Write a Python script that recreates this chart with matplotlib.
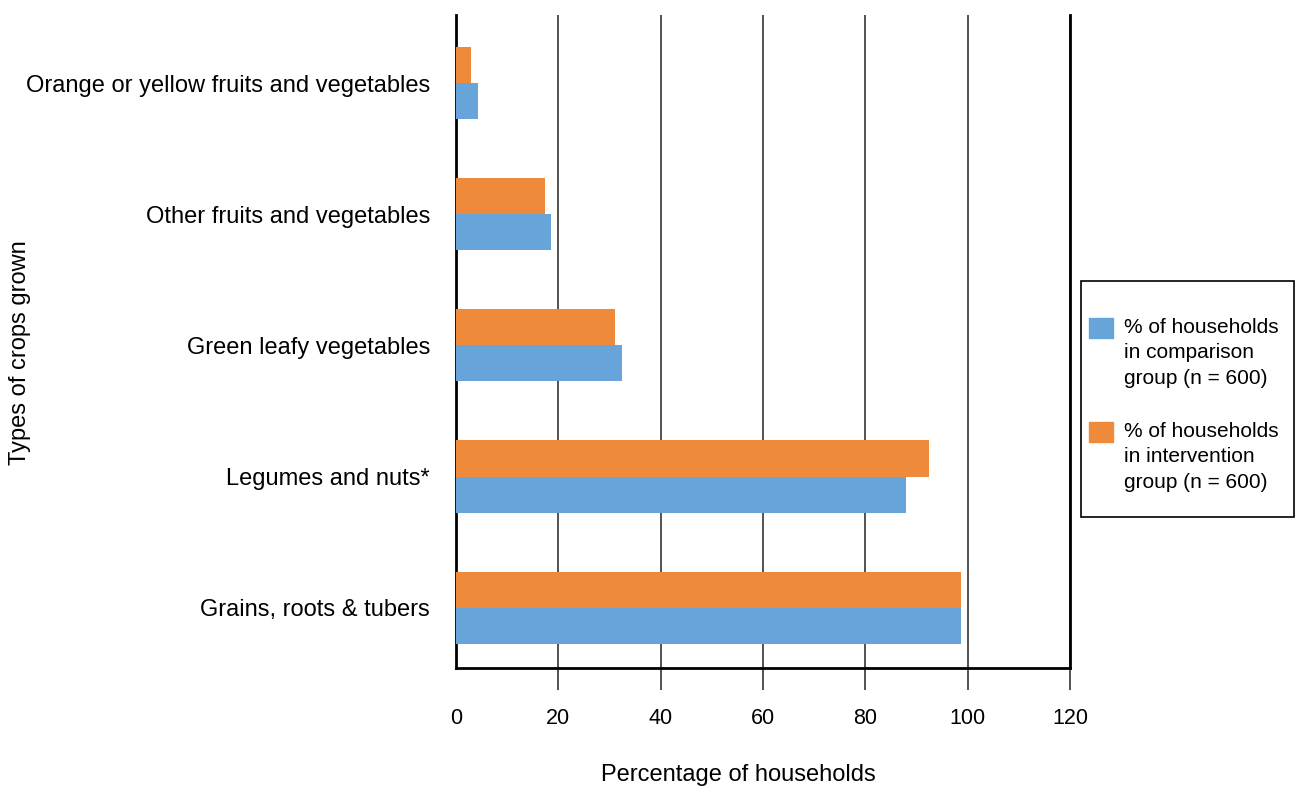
import matplotlib
matplotlib.use("Agg")
import matplotlib.pyplot as plt
from matplotlib.patches import Rectangle
import numpy as np

plt.rcParams['font.family'] = ['Liberation Sans', 'DejaVu Sans']

# categorias de abajo hacia arriba
cultivos = ['Grains, roots & tubers', 'Legumes and nuts*', 'Green leafy vegetables',
            'Other fruits and vegetables', 'Orange or yellow fruits and vegetables']
comparacion = [98.6, 87.9, 32.4, 18.6, 4.3]
intervencion = [98.6, 92.4, 31.0, 17.4, 3.0]
ticks_x = [0, 20, 40, 60, 80, 100, 120]
etiquetas_serie = [['% of households', 'in comparison', 'group (n = 600)'],
                   ['% of households', 'in intervention', 'group (n = 600)']]

AZUL = '#67A4DA'
NARANJA = '#EF8A3B'
W, H = 1300, 786

fig = plt.figure(figsize=(13, 7.86), dpi=100)
ax = fig.add_axes([456 / W, 1 - 668 / H, 614 / W, 653 / H])

y = np.arange(len(cultivos))
alto = 0.275
ax.barh(y - alto / 2, comparacion, height=alto, color=AZUL, zorder=3)
ax.barh(y + alto / 2, intervencion, height=alto, color=NARANJA, zorder=3)

ax.set_xlim(0, 120)
ax.set_ylim(-0.46, 4.52)
ax.set_xticks(ticks_x)
ax.set_xticklabels([str(t) for t in ticks_x], fontsize=15.5)
ax.set_yticks(y)
ax.set_yticklabels(cultivos, fontsize=17)

ax.grid(axis='x', color='#444444', linewidth=1.3, zorder=1)
ax.tick_params(axis='x', length=16, width=1.3, color='#444444', pad=13)
ax.tick_params(axis='y', length=0, pad=18.7)
ax.xaxis.get_major_ticks()[0].tick1line.set_visible(False)

ax.spines['top'].set_visible(False)
for lado in ['left', 'right', 'bottom']:
    ax.spines[lado].set_linewidth(2)
    ax.spines[lado].set_color('black')

# titulos de ejes
fig.text(738 / W, 5 / H, 'Percentage of households', fontsize=17,
         ha='center', va='baseline')
fig.text(20 / W, 1 - 353 / H, 'Types of crops grown', rotation=90, fontsize=17,
         ha='center', va='center')

# leyenda dibujada a mano (parche alineado con la primera linea)
fig.patches.append(Rectangle((1081 / W, 1 - 517 / H), 213 / W, 236 / H,
                             transform=fig.transFigure, fill=False,
                             edgecolor='black', linewidth=1.2))
colores = [AZUL, NARANJA]
inicio = [318, 422]
for k in range(2):
    fig.patches.append(Rectangle((1089 / W, 1 - (inicio[k] + 20) / H), 24 / W, 20 / H,
                                 transform=fig.transFigure, color=colores[k]))
    for j, linea in enumerate(etiquetas_serie[k]):
        fig.text(1124 / W, 1 - (inicio[k] + 15 + 25.5 * j) / H, linea,
                 fontsize=15, ha='left', va='baseline')

fig.savefig('out.png', dpi=100)
